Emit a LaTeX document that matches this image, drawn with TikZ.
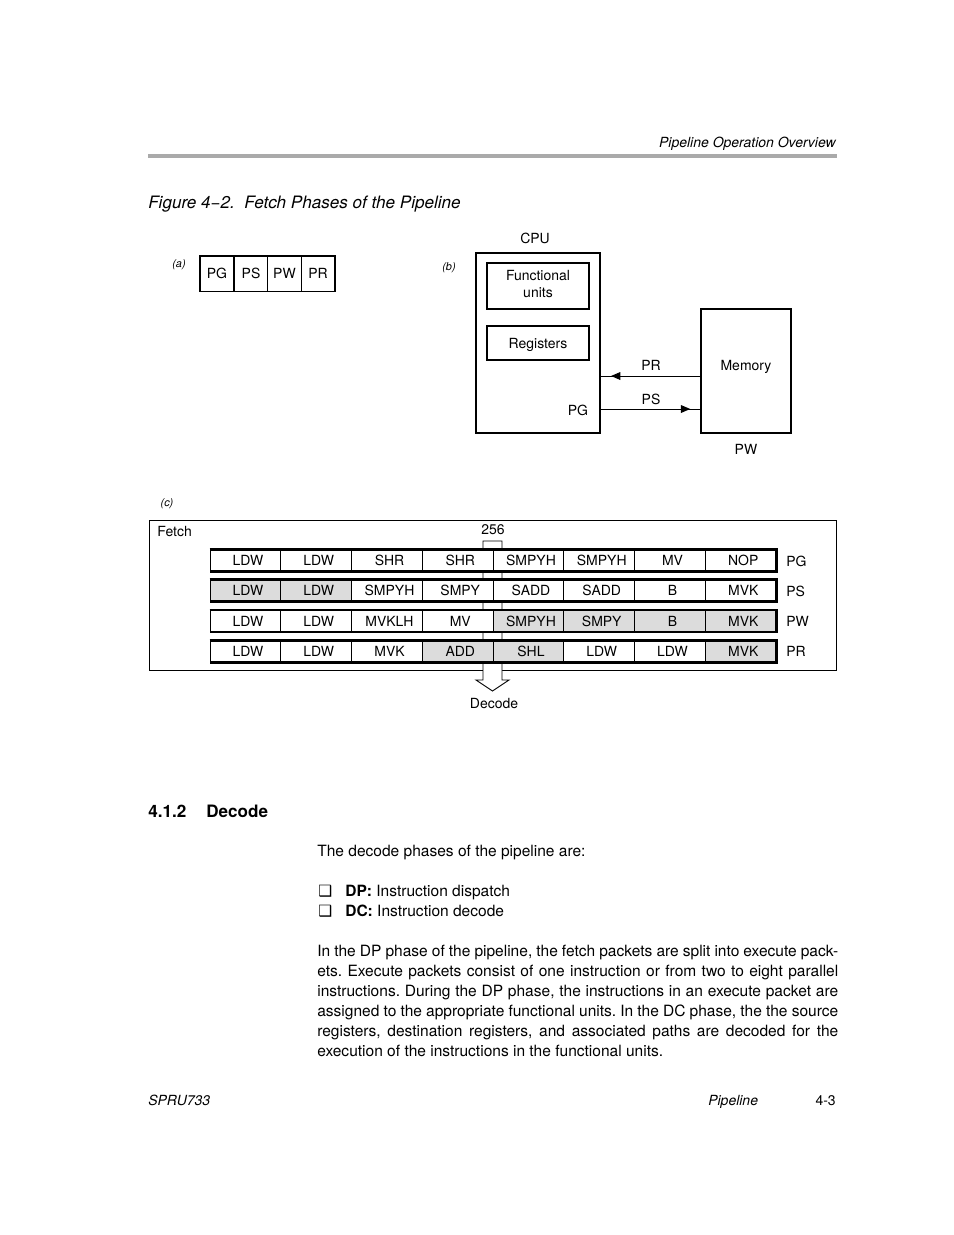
\documentclass[tikz,border=0pt]{standalone}
\usepackage{fontspec}
\setmainfont{TeX Gyre Heros}
\newfontfamily\symfont{DejaVu Sans}
\usetikzlibrary{decorations.markings,arrows.meta}
\definecolor{cellgray}{HTML}{DCDCDC}
\definecolor{rulegray}{HTML}{AAAAAA}
\frenchspacing
\begin{document}
\begin{tikzpicture}[x=0.644pt,y=-0.644pt,
  txt/.style={inner sep=0pt, font=\fontsize{10}{12}\selectfont},
  lbl/.style={inner sep=0pt, font=\fontsize{9}{11}\selectfont},
  itl/.style={inner sep=0pt, font=\fontsize{9}{11}\selectfont\itshape},
  tag/.style={inner sep=0pt, font=\fontsize{7}{8}\selectfont\itshape},
  cell/.style={draw, line width=0.6pt, inner sep=0pt, minimum width=45.56pt, minimum height=13.5pt, font=\fontsize{9}{11}\selectfont, execute at begin node={\hspace*{3.4pt}}},
  acell/.style={draw, line width=0.6pt, inner sep=0pt, minimum width=21.7pt, minimum height=22.5pt, font=\fontsize{9}{11}\selectfont},
  box/.style={draw, line width=1.1pt, inner sep=0pt},
  hair/.style={line width=0.6pt},
  rowedge/.style={line width=1.5pt},
  flowarrow/.style={line width=0.6pt, postaction={decorate},
    decoration={markings, mark=at position #1 with {\arrow{Triangle[length=6pt,width=5pt]}}}}
]
\useasboundingbox (0,0) rectangle (954,1235);

% ---------- header ----------
\node[itl, anchor=base east] (hdr) at (836,147) {Pipeline Operation Overview};
\draw[rulegray, line width=2pt] (148,156) -- (837,156);
\node[inner sep=0pt, anchor=base west, font=\fontsize{11}{13}\selectfont\itshape] (title) at (148,208) {Figure 4−2.\ \ Fetch Phases of the Pipeline};

% ---------- (a) ----------
\node[tag, anchor=base] (taga) at (179,267) {(a)};
\node[acell] (apg) at (217,273.5) {PG};
\node[acell] (aps) at (251,273.5) {PS};
\node[acell] (apw) at (284.5,273.5) {PW};
\node[acell] (apr) at (318,273.5) {PR};
\draw[line width=1.1pt] (apg.north west) rectangle (apr.south east);

% ---------- (b) ----------
\node[tag, anchor=base] (tagb) at (449,270) {(b)};
\node[lbl, anchor=base] (cpulbl) at (535,243) {CPU};
\node[draw, line width=1.4pt, inner sep=0pt, minimum width=79.9pt, minimum height=115.9pt] (cpu) at (538,343) {};
\node[box, minimum width=65.7pt, minimum height=29.6pt] (fu) at (538,286) {};
\node[lbl, align=center] (fulbl) at (538,284) {Functional\\units};
\node[box, minimum width=65.7pt, minimum height=21.9pt] (reg) at (538,343) {};
\node[lbl] (reglbl) at (538,344.5) {Registers};
\node[draw, line width=1.1pt, inner sep=0pt, minimum width=58pt, minimum height=79.9pt] (mem) at (746,371) {};
\node[lbl] (memlbl) at (746,366.5) {Memory};
\node[lbl] (pglbl) at (578,410) {PG};
\node[lbl] (prlbl) at (651,365) {PR};
\node[lbl] (pslbl) at (651,399) {PS};
\node[lbl] (pwlbl) at (746,449) {PW};
\coordinate (prY) at (0,376);
\coordinate (psY) at (0,409);
\draw[flowarrow=0.9] (mem.west |- prY) -- (cpu.east |- prY);
\draw[flowarrow=0.9] (cpu.east |- psY) -- (mem.west |- psY);

% ---------- (c) ----------
\node[tag, anchor=base] (tagc) at (167,506) {(c)};
\draw[hair] (149,520) rectangle (836,670);
\node[lbl, anchor=base west] (fetch) at (157,536) {Fetch};
\node[lbl] (bw) at (493,530) {256};
\draw[hair, fill=white] (483,541) -- (502,541) -- (502,680) -- (509,680) -- (492.5,691) -- (476,680) -- (483,680) -- cycle;
\node[lbl] (decode) at (494,703) {Decode};

\foreach \lab/\fc [count=\i] in {LDW/white,LDW/white,SHR/white,SHR/white,SMPYH/white,SMPYH/white,MV/white,NOP/white}
  \node[cell, fill=\fc] (ra\i) at ({210+70.75*(\i-0.5)},560.5) {\lab};
\foreach \lab/\fc [count=\i] in {LDW/cellgray,LDW/cellgray,SMPYH/white,SMPY/white,SADD/white,SADD/white,B/white,MVK/white}
  \node[cell, fill=\fc] (rb\i) at ({210+70.75*(\i-0.5)},590.5) {\lab};
\foreach \lab/\fc [count=\i] in {LDW/white,LDW/white,MVKLH/white,MV/white,SMPYH/cellgray,SMPY/cellgray,B/cellgray,MVK/cellgray}
  \node[cell, fill=\fc] (rc\i) at ({210+70.75*(\i-0.5)},621) {\lab};
\foreach \lab/\fc [count=\i] in {LDW/white,LDW/white,MVK/white,ADD/cellgray,SHL/cellgray,LDW/white,LDW/white,MVK/cellgray}
  \node[cell, fill=\fc] (rd\i) at ({210+70.75*(\i-0.5)},651.5) {\lab};
\foreach \r in {ra,rb,rc,rd}
  \draw[rowedge] (\r1.north west) -- (\r8.north east) -- (\r8.south east) -- (\r1.south west);

\node[lbl, anchor=west] (phg) at (786,561) {PG};
\node[lbl, anchor=west] (phs) at (786,591) {PS};
\node[lbl, anchor=west] (phw) at (786,621) {PW};
\node[lbl, anchor=west] (phr) at (786,651.5) {PR};

% ---------- section text ----------
\node[inner sep=0pt, anchor=base west, font=\fontsize{11}{13}\selectfont\bfseries] (secnum) at (148,817) {4.1.2};
\node[inner sep=0pt, anchor=base west, font=\fontsize{11}{13}\selectfont\bfseries] (sectitle) at (206,817) {Decode};
\node[txt, anchor=base west] (intro) at (317,856) {The decode phases of the pipeline are:};
\node[txt, anchor=base west] (b1) at (318,896) {\symfont\fontsize{10}{12}\selectfont ❑};
\node[txt, anchor=base west] (b1t) at (345,896) {\textbf{DP:} Instruction dispatch};
\node[txt, anchor=base west] (b2) at (318,916) {\symfont\fontsize{10}{12}\selectfont ❑};
\node[txt, anchor=base west] (b2t) at (345,916) {\textbf{DC:} Instruction decode};

\node[txt, anchor=base west] (p1) at (317,956) {\makebox[335.5pt][s]{In the DP phase of the pipeline, the fetch packets are split into execute pack-}};
\node[txt, anchor=base west] (p2) at (317,976) {\makebox[335.5pt][s]{ets. Execute packets consist of one instruction or from two to eight parallel}};
\node[txt, anchor=base west] (p3) at (317,996) {\makebox[335.5pt][s]{instructions. During the DP phase, the instructions in an execute packet are}};
\node[txt, anchor=base west] (p4) at (317,1016) {\makebox[335.5pt][s]{assigned to the appropriate functional units. In the DC phase, the the source}};
\node[txt, anchor=base west] (p5) at (317,1036) {\makebox[335.5pt][s]{registers, destination registers, and associated paths are decoded for the}};
\node[txt, anchor=base west] (p6) at (317,1056) {execution of the instructions in the functional units.};

% ---------- footer ----------
\node[itl, anchor=base west] (f1) at (148,1105) {SPRU733};
\node[itl, anchor=base west] (f2) at (708,1105) {Pipeline};
\node[lbl, anchor=base east] (f3) at (836,1105) {4-3};
\end{tikzpicture}
\end{document}
